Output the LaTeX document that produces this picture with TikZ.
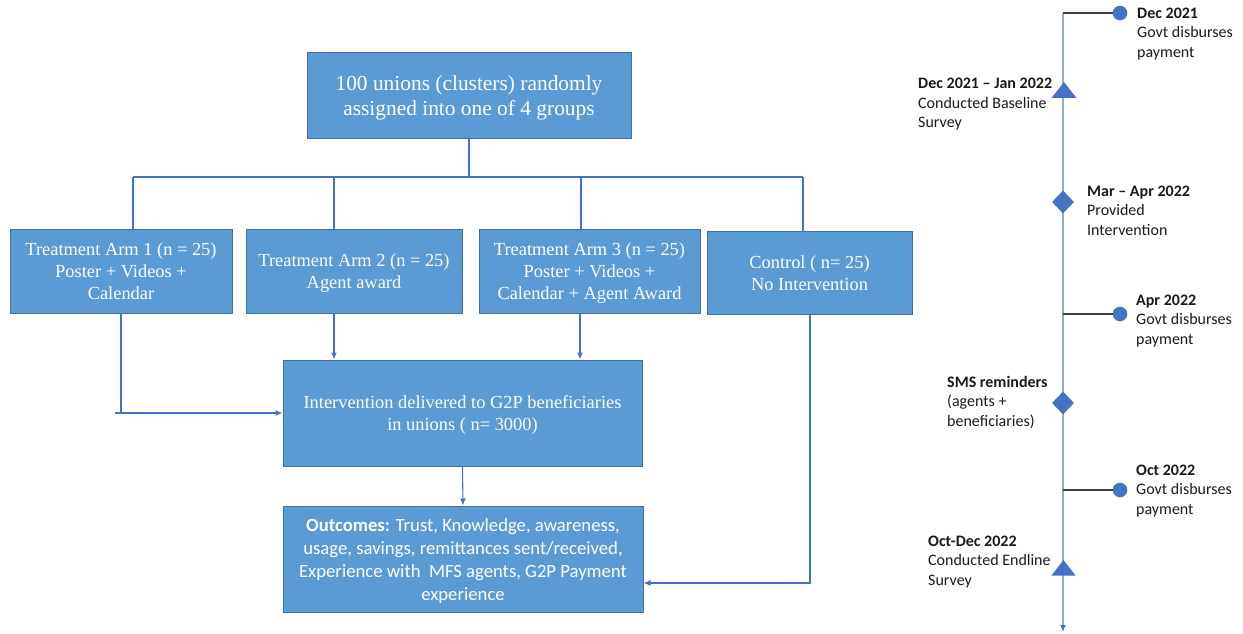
\documentclass[tikz,border=0pt]{standalone}
\usepackage{fontspec}
\setmainfont{Liberation Serif}
\newfontfamily\calfont{Carlito}
\usetikzlibrary{arrows.meta,shapes.geometric}
\definecolor{boxfill}{HTML}{5B9BD5}
\definecolor{boxline}{HTML}{41719C}
\definecolor{connc}{HTML}{4472C4}
\definecolor{tlinec}{HTML}{8FAADC}
\definecolor{branchc}{HTML}{404040}
\definecolor{markc}{HTML}{4472C4}
\definecolor{txtc}{HTML}{1A1A1A}
\newcommand\bxstrut{\rule[\dimexpr-0.3\baselineskip+2.5pt\relax]{0pt}{\baselineskip}}
\begin{document}
\begin{tikzpicture}[x=1pt,y=-1pt,
  box/.style={draw=boxline,fill=boxfill,line width=1pt,text=white,align=center,inner sep=0pt,
    font=\fontsize{18.4pt}{22pt}\selectfont},
  conn/.style={draw=connc,line width=1.1pt},
  arr/.style={conn,-{Latex[length=7pt,width=6pt]}},
  tl/.style={draw=tlinec,line width=1.6pt,-{Latex[length=7pt,width=6pt,color=connc]}},
  br/.style={draw=branchc,line width=1.1pt},
  dot/.style={circle,fill=markc,inner sep=0pt,minimum size=14.6pt},
  dia/.style={diamond,fill=markc,inner sep=0pt,minimum width=22pt,minimum height=23pt},
  lbl/.style={font=\calfont\fontsize{16pt}{19.5pt}\selectfont,align=left,inner sep=0pt,anchor=north west,text=txtc}
]
\useasboundingbox (0,0) rectangle (1243,634);

% boxes
\node[box,minimum width=324pt,minimum height=85pt,font=\fontsize{21.4pt}{25pt}\selectfont] (top) at (469,95.5)
  {\bxstrut 100 unions (clusters) randomly\\\bxstrut assigned into one of 4 groups};
\node[box,minimum width=222pt,minimum height=84pt] (box1) at (121,271)
  {\bxstrut Treatment Arm 1 (n = 25)\\\bxstrut Poster + Videos +\\\bxstrut Calendar};
\node[box,minimum width=216pt,minimum height=84pt] (box2) at (354,271)
  {\bxstrut Treatment Arm 2 (n = 25)\\\bxstrut Agent award};
\node[box,minimum width=221pt,minimum height=84pt] (box3) at (589.5,271)
  {\bxstrut Treatment Arm 3 (n = 25)\\\bxstrut Poster + Videos +\\\bxstrut Calendar + Agent Award};
\node[box,minimum width=205pt,minimum height=83pt] (box4) at (809.5,272.5)
  {\bxstrut Control ( n= 25)\\\bxstrut No Intervention};
\node[box,minimum width=359pt,minimum height=106pt] (inter) at (462.5,413)
  {\bxstrut Intervention delivered to G2P beneficiaries\\\bxstrut in unions ( n= 3000)};
\node[box,minimum width=360pt,minimum height=106pt,font=\calfont\fontsize{18.7pt}{22.7pt}\selectfont] (out) at (463,559)
  {\bxstrut\textbf{Outcomes:} Trust, Knowledge, awareness,\\\bxstrut usage, savings, remittances sent/received,\\\bxstrut Experience with\ \ MFS agents, G2P Payment\\\bxstrut experience};

% connectors
\coordinate (b1) at (133,177);
\coordinate (b2) at (334,177);
\coordinate (b3) at (581,177);
\coordinate (b4) at (803,177);
\draw[conn] (top.south) -- (top.south |- b1);
\draw[conn] (b1) -- (b4);
\draw[conn] (b1) -- (b1 |- box1.north);
\draw[conn] (b2) -- (b2 |- box2.north);
\draw[conn] (b3) -- (b3 |- box3.north);
\draw[conn] (b4) -- (b4 |- box4.north);
\coordinate (stub) at (115,413);
\draw[conn] (stub) -- (box1.south |- stub);
\draw[arr] (box1.south) |- (inter.west);
\draw[arr] (box2.south -| b2) -- (inter.north -| b2);
\coordinate (a3) at (580,0);
\draw[arr] (box3.south -| a3) -- (inter.north -| a3);
\draw[arr] (inter.south) -- (out.north);
\coordinate (ctl) at (810,583);
\draw[arr] (box4.south -| ctl) -- (ctl) -- (out.east |- ctl);

% timeline
\coordinate (tltop) at (1063,13);
\coordinate (tlbot) at (1063,632);
\draw[tl] (tltop) -- (tlbot);
\node[dot] (c1) at (1120,13) {};
\node[dot] (c2) at (1120,314) {};
\node[dot] (c3) at (1120,490) {};
\draw[br] (tltop) -- (c1.west);
\draw[br] (c2 -| tltop) -- (c2.west);
\draw[br] (c3 -| tltop) -- (c3.west);
\fill[markc] (1064,82) -- (1076.5,98) -- (1051.5,98) -- cycle;
\fill[markc] (1063.5,560) -- (1075.5,575.5) -- (1051.5,575.5) -- cycle;
\node[dia] (d1) at (1063,202) {};
\node[dia] (d2) at (1063,403) {};

% timeline labels
\node[lbl] (l1) at (1137,4.5) {\strut\textbf{Dec 2021}\\\strut Govt disburses\\\strut payment};
\node[lbl] (l2) at (918,75) {\strut\textbf{Dec 2021 – Jan 2022}\\\strut Conducted Baseline\\\strut Survey};
\node[lbl] (l3) at (1087,182.5) {\strut\textbf{Mar – Apr 2022}\\\strut Provided\\\strut Intervention};
\node[lbl] (l4) at (1136,291.5) {\strut\textbf{Apr 2022}\\\strut Govt disburses\\\strut payment};
\node[lbl] (l5) at (947,373.5) {\strut\textbf{SMS reminders}\\\strut (agents +\\\strut beneficiaries)};
\node[lbl] (l6) at (1136,461.5) {\strut\textbf{Oct 2022}\\\strut Govt disburses\\\strut payment};
\node[lbl] (l7) at (928,532.5) {\strut\textbf{Oct-Dec 2022}\\\strut Conducted Endline\\\strut Survey};
\end{tikzpicture}
\end{document}
